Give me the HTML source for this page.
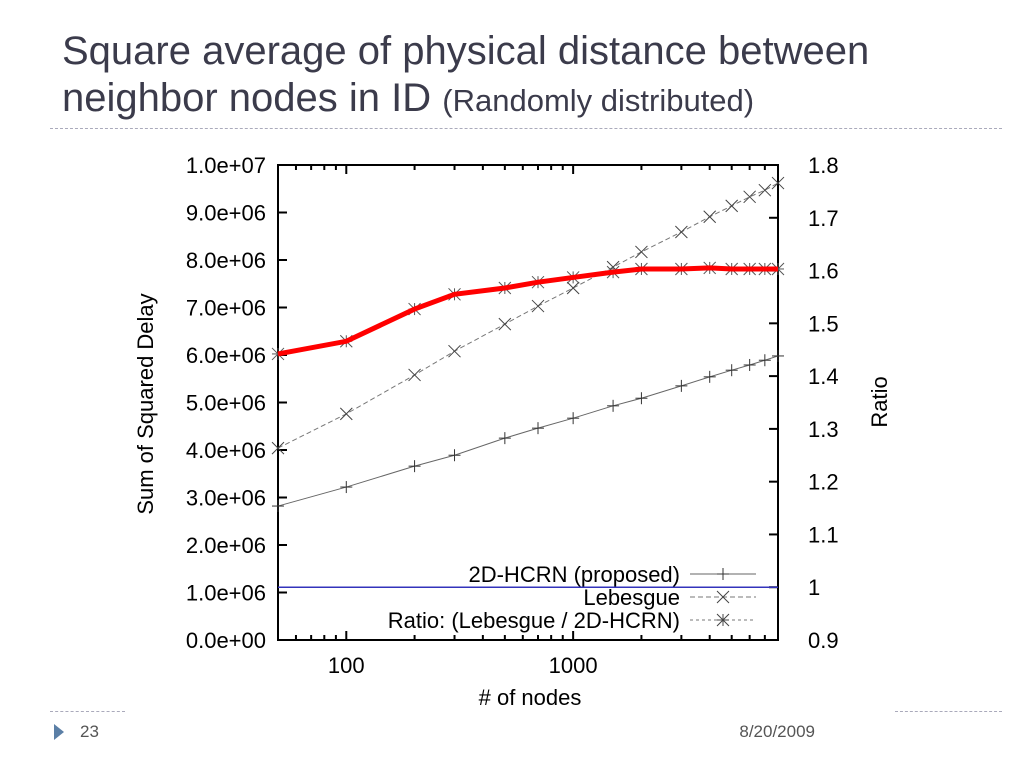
<!DOCTYPE html>
<html><head><meta charset="utf-8"><style>
body{margin:0;width:1024px;height:768px;background:#fff;overflow:hidden;font-family:"Liberation Sans",sans-serif}
#title{position:absolute;left:62px;top:28px;font-size:40px;line-height:47px;color:#3b3b4b;white-space:nowrap}
#title small{font-size:31px}
.sep{position:absolute;border-top:1px dashed #aab;height:0}
</style></head><body>
<div id="title">Square average of physical distance between<br>neighbor nodes in ID <small>(Randomly distributed)</small></div>
<div class="sep" style="left:50px;top:128px;width:952px"></div>
<div class="sep" style="left:50px;top:711px;width:75px"></div>
<div class="sep" style="left:895px;top:711px;width:107px"></div>
<svg width="1024" height="768" style="position:absolute;left:0;top:0" id="chart">
<polygon points="54,724 64,732 54,740" fill="#5b7fa6"/>
<text x="80" y="737" font-size="17" fill="#555">23</text>
<text x="815" y="737" font-size="17" fill="#555" text-anchor="end">8/20/2009</text>
</svg>
<script>
const nodes=[50,100,200,300,500,700,1000,1500,2000,3000,4000,5000,6000,7000,8000];
const hcrn=[2.82e6,3.22e6,3.66e6,3.89e6,4.25e6,4.46e6,4.67e6,4.93e6,5.09e6,5.35e6,5.54e6,5.68e6,5.79e6,5.89e6,5.98e6];
const lebesgue=[4.04e6,4.76e6,5.58e6,6.08e6,6.65e6,7.03e6,7.41e6,7.85e6,8.17e6,8.59e6,8.91e6,9.14e6,9.33e6,9.47e6,9.62e6];
const ratio=[1.442,1.466,1.527,1.555,1.567,1.578,1.587,1.597,1.603,1.603,1.605,1.603,1.603,1.603,1.603];
const leftTicks=["0.0e+00","1.0e+06","2.0e+06","3.0e+06","4.0e+06","5.0e+06","6.0e+06","7.0e+06","8.0e+06","9.0e+06","1.0e+07"];
const rightTicks=["0.9","1","1.1","1.2","1.3","1.4","1.5","1.6","1.7","1.8"];
const xTickLabels=["100","1000"];
const L=278,R=778,T=165,B=640,xmin=50,xmax=8000;
const X=v=>L+(Math.log10(v)-Math.log10(xmin))/(Math.log10(xmax)-Math.log10(xmin))*(R-L);
const YL=v=>B-v/1e7*(B-T);
const YR=v=>B-(v-0.9)/0.9*(B-T);
const svg=document.getElementById('chart');const NS='http://www.w3.org/2000/svg';
function mk(tag,attrs,parent){const e=document.createElementNS(NS,tag);for(const k in attrs)e.setAttribute(k,attrs[k]);(parent||svg).appendChild(e);return e;}
function txt(x,y,s,size,anchor,name){const t=mk('text',{x:x,y:y,'font-size':size,'text-anchor':anchor,fill:'#000'});t.textContent=s;


return t;}
const fr=mk('rect',{x:L,y:T,width:R-L,height:B-T,fill:'none',stroke:'#000','stroke-width':2});


leftTicks.forEach((s,i)=>{const y=YL(i*1e6);
mk('line',{x1:L,x2:L+9,y1:y,y2:y,stroke:'#000','stroke-width':2});
txt(L-12,y+8,s,22,'end','left-tick-label');});
rightTicks.forEach((s,i)=>{const v=0.9+i*0.1;const y=YR(v);
mk('line',{x1:R-9,x2:R,y1:y,y2:y,stroke:'#000','stroke-width':2});
txt(R+30,y+8,s,22,'start','right-tick-label');});
for(let d=10;d<=1000;d*=10)for(let m=1;m<10;m++){const v=d*m;if(v<xmin||v>xmax)continue;const x=X(v);const maj=m==1;
mk('line',{x1:x,x2:x,y1:B,y2:B-(maj?9:5),stroke:'#000','stroke-width':2});
mk('line',{x1:x,x2:x,y1:T,y2:T+(maj?9:5),stroke:'#000','stroke-width':2});}
xTickLabels.forEach(s=>txt(X(+s),673,s,22,'middle','x-tick-label'));
txt(530,705,'# of nodes',22,'middle','x-axis-title');
const yt=txt(0,0,'Sum of Squared Delay',22,'middle','y-axis-title');yt.setAttribute('transform','translate(153,404) rotate(-90)');
const rt=txt(0,0,'Ratio',22,'middle','y2-axis-title');rt.setAttribute('transform','translate(887,402) rotate(-90)');
const bl=mk('line',{x1:L,x2:R,y1:YR(1),y2:YR(1),stroke:'#3333bb','stroke-width':1.5});


function series(vals,Y,color,w,dash,name){const pts=nodes.map((n,i)=>X(n)+','+Y(vals[i])).join(' ');
const p=mk('polyline',{points:pts,fill:'none',stroke:color,'stroke-width':w,'stroke-dasharray':dash});

}
function marker(x,y,type,c){const s=6;
if(type=='plus'||type=='star'){mk('line',{x1:x-s,x2:x+s,y1:y,y2:y,stroke:c});mk('line',{x1:x,x2:x,y1:y-s,y2:y+s,stroke:c});}
if(type=='x'||type=='star'){mk('line',{x1:x-s,x2:x+s,y1:y-s,y2:y+s,stroke:c});mk('line',{x1:x-s,x2:x+s,y1:y+s,y2:y-s,stroke:c});}}
series(hcrn,YL,'#666',1,'','hcrn-line');
nodes.forEach((n,i)=>marker(X(n),YL(hcrn[i]),'plus','#333'));
series(lebesgue,YL,'#777',1,'5,3','lebesgue-line');
nodes.forEach((n,i)=>marker(X(n),YL(lebesgue[i]),'x','#444'));
nodes.forEach((n,i)=>marker(X(n),YR(ratio[i]),'star','#555'));
series(ratio,YR,'#f00',5,'','ratio-line');
txt(680,582,'2D-HCRN (proposed)',22,'end','legend-hcrn');
mk('line',{x1:690,x2:756,y1:574,y2:574,stroke:'#666'});marker(723,574,'plus','#333');
txt(680,605,'Lebesgue',22,'end','legend-lebesgue');
mk('line',{x1:690,x2:756,y1:597,y2:597,stroke:'#777','stroke-dasharray':'5,3'});marker(723,597,'x','#444');
txt(680,628,'Ratio: (Lebesgue / 2D-HCRN)',22,'end','legend-ratio');
mk('line',{x1:690,x2:756,y1:620,y2:620,stroke:'#777','stroke-dasharray':'3,3'});marker(723,620,'star','#444');
</script>
</body></html>
